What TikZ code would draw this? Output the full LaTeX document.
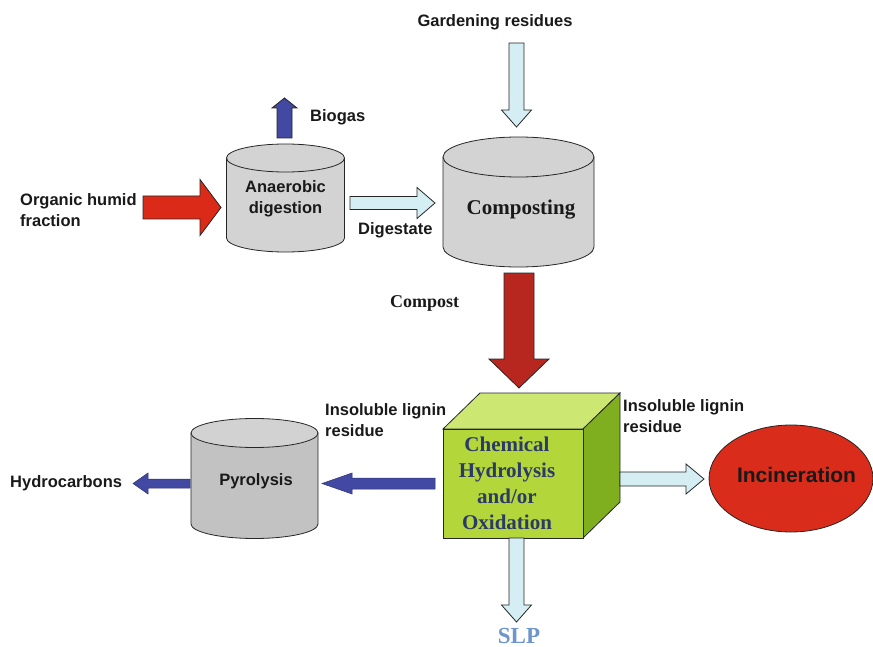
\documentclass[tikz,border=0pt]{standalone}
\usepackage{fontspec}
\setmainfont{Liberation Serif}
\setsansfont{Liberation Sans}
\newfontfamily\labfont{Liberation Sans}

\definecolor{flowcyan}{HTML}{D5EEF3}
\definecolor{flowblue}{HTML}{4149A2}
\definecolor{flowred}{HTML}{DB2B18}
\definecolor{flowdark}{HTML}{B8271F}
\definecolor{tankgrey}{HTML}{D3D3D3}
\definecolor{pyrobody}{HTML}{C2C2C2}
\definecolor{pyrotop}{HTML}{D2D2D2}
\definecolor{cubefront}{HTML}{B3D63B}
\definecolor{cubetop}{HTML}{CDE773}
\definecolor{cubeside}{HTML}{7FAF1F}
\definecolor{cubetext}{HTML}{2C3A6A}
\definecolor{slpblue}{HTML}{6E95CC}
\definecolor{burnred}{HTML}{D92C1A}

% horizontal block arrow: x tail, x tip, y centre, body half, head half, head length, style
\newcommand\hblock[7]{%
  \filldraw[#7] (#1,{#3-#4}) -- ({#2-#6},{#3-#4}) -- ({#2-#6},{#3-#5}) -- (#2,#3)
    -- ({#2-#6},{#3+#5}) -- ({#2-#6},{#3+#4}) -- (#1,{#3+#4}) -- cycle;}
% vertical block arrow: x centre, y tail, y tip, body half, head half, head length, style
\newcommand\vblock[7]{%
  \filldraw[#7] ({#1-#4},#2) -- ({#1-#4},{#3-#6}) -- ({#1-#5},{#3-#6}) -- (#1,#3)
    -- ({#1+#5},{#3-#6}) -- ({#1+#4},{#3-#6}) -- ({#1+#4},#2) -- cycle;}
% cylinder: x centre, half width, y top, y bottom, rim radius, body fill, top fill
\newcommand\tank[7]{%
  \filldraw[outline,fill=#6] ({#1-#2},#3) -- ({#1-#2},#4)
    arc[start angle=180,end angle=360,x radius=#2pt,y radius=#5pt]
    -- ({#1+#2},#3) -- cycle;
  \filldraw[outline,fill=#7] (#1,#3) ellipse[x radius=#2pt,y radius=#5pt];}

\tikzset{
  outline/.style={draw=black!85,line width=0.8pt,line join=miter},
  label/.style={font=\labfont\bfseries\fontsize{16.5}{21}\selectfont,inner sep=0pt,text=black!90},
  serif/.style={font=\rmfamily\bfseries,inner sep=0pt,text=black!90},
}

\begin{document}
\begin{tikzpicture}[x=1pt,y=-1pt]
\useasboundingbox (0,0) rectangle (873,647);

% vessels
\tank{285.5}{59}{158}{238}{14}{tankgrey}{tankgrey}
\tank{518.5}{75.5}{157}{247}{20}{tankgrey}{tankgrey}
\tank{254.5}{63.5}{433}{524}{14.5}{pyrobody}{pyrotop}

% oxidation cube
\filldraw[outline,fill=cubetop] (443,429) -- (480,393) -- (620,393) -- (583,429) -- cycle;
\filldraw[outline,fill=cubeside] (583,429) -- (620,393) -- (620,502) -- (583,538) -- cycle;
\filldraw[outline,fill=cubefront] (443,429) rectangle (583,538);

% incineration
\filldraw[draw=black!85,line width=0.8pt,fill=burnred] (791,478.5) ellipse[x radius=82pt,y radius=53.5pt];

% flows
\hblock{143}{221}{207.5}{11.5}{28}{21}{outline,fill=flowred}
\vblock{284.5}{138}{98}{7.5}{12.5}{-10}{outline,fill=flowblue}
\hblock{350}{435}{203}{6.5}{15.5}{18}{outline,fill=flowcyan}
\vblock{516.5}{43}{127}{7.5}{15}{17}{outline,fill=flowcyan}
\vblock{519}{273}{388}{15}{30}{29}{outline,fill=flowdark}
\vblock{516.5}{538}{622}{7.5}{15}{17}{outline,fill=flowcyan}
\hblock{435}{322}{483.5}{5.5}{10.5}{-30}{draw=flowblue!70!black,line width=0.5pt,fill=flowblue}
\hblock{190}{133}{483.5}{4.5}{10.5}{-15}{draw=flowblue!70!black,line width=0.5pt,fill=flowblue}
\hblock{620}{704}{479}{7}{15}{18}{outline,fill=flowcyan}

% texts
\node[label,align=left,anchor=north west] (organic) at (20,193) {Organic humid\\fraction};
\node[label,anchor=base west] (biogas) at (310,122) {Biogas};
\node[label,align=center,anchor=north] (anaerobic) at (285.5,180) {Anaerobic\\digestion};
\node[label,anchor=base west] (digestate) at (358,235) {Digestate};
\node[label,anchor=base] (garden) at (495,27) {Gardening residues};
\node[serif,font=\rmfamily\bfseries\fontsize{21}{25}\selectfont,anchor=base] (composting) at (521,215) {Composting};
\node[serif,font=\rmfamily\bfseries\fontsize{18}{22}\selectfont,anchor=base west] (compost) at (390,307) {Compost};
\node[serif,font=\rmfamily\bfseries\fontsize{21}{26}\selectfont,text=cubetext,align=center,anchor=north] (chem) at (507,437) {Chemical\\Hydrolysis\\and/or\\Oxidation};
\node[serif,font=\rmfamily\bfseries\fontsize{23}{27}\selectfont,text=slpblue,anchor=base] (slp) at (519,643) {SLP};
\node[label,align=left,anchor=north west] (ligninL) at (325,403) {Insoluble lignin\\residue};
\node[label,align=left,anchor=north west] (ligninR) at (623,399) {Insoluble lignin\\residue};
\node[label,anchor=base] (pyro) at (256,485) {Pyrolysis};
\node[label,anchor=base west] (hydro) at (10,487) {Hydrocarbons};
\node[label,font=\labfont\bfseries\fontsize{21}{25}\selectfont,anchor=base] (burn) at (796.5,482) {Incineration};
\end{tikzpicture}
\end{document}
